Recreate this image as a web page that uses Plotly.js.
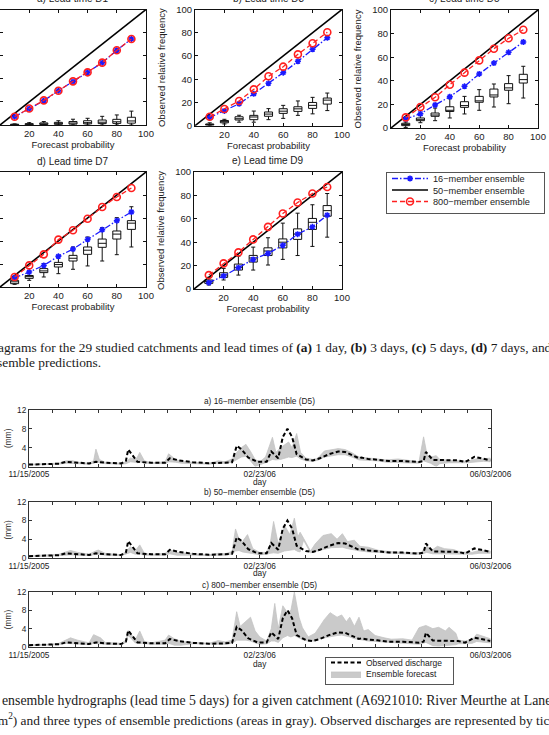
<!DOCTYPE html>
<html>
<head>
<meta charset="utf-8">
<script src="https://cdn.plot.ly/plotly-3.0.1.min.js"></script>
<style>
  html, body { margin: 0; padding: 0; background: #fff; }
  #chart { width: 549px; height: 735px; }
</style>
</head>
<body>
<div id="chart"></div>
<script>
// ---------- Reliability diagrams ----------
const probs = [10, 20, 30, 40, 50, 60, 70, 80, 90];          // forecast probability classes (%)
const probTicks = [20, 40, 60, 80, 100];
const freqTicks = [0, 20, 40, 60, 80, 100];
const perfectLine = [0, 100];                                 // 1:1 reliability line
const leadTitles = ['a) Lead time D1', 'b) Lead time D3', 'c) Lead time D5', 'd) Lead time D7', 'e) Lead time D9'];
const seriesNames = ['16\u2212member ensemble', '50\u2212member ensemble', '800\u2212member ensemble'];

// observed relative frequency (%) - 16-member ensemble
const rel16D1 = [7.2, 14.1, 21.0, 29.7, 37.5, 45.6, 54.0, 64.7, 74.5];
const rel16D3 = [7.0, 12.7, 18.9, 27.5, 36.5, 45.6, 55.4, 65.7, 75.7];
const rel16D5 = [7.6, 12.1, 19.5, 26.5, 35.3, 45.8, 55.0, 64.1, 72.9];
const rel16D7 = [8.1, 13.0, 18.8, 26.7, 33.0, 41.4, 49.8, 57.7, 65.2];
const rel16D9 = [5.4, 11.1, 18.2, 25.3, 30.4, 37.3, 46.9, 53.1, 63.1];

// observed relative frequency (%) - 800-member ensemble
const rel800D1 = [7.2, 14.3, 21.3, 29.7, 37.8, 45.6, 54.0, 64.7, 74.5];
const rel800D3 = [7.7, 14.4, 21.3, 31.3, 42.5, 50.8, 61.4, 70.9, 80.4];
const rel800D5 = [9.0, 17.8, 26.0, 36.7, 46.9, 57.3, 67.2, 76.0, 83.3];
const rel800D7 = [8.7, 18.8, 28.4, 41.2, 49.3, 59.4, 69.6, 78.3, 86.1];
const rel800D9 = [11.9, 21.9, 31.3, 42.4, 53.1, 64.5, 73.9, 81.6, 87.2];

// 50-member ensemble: spread over the 29 catchments (whiskers, quartiles, median)
const box50D1 = {
  low:  [0, 0, 0, 0, 0, 0, 0, 0, 0],
  q1:   [0, 0.2, 0.4, 0.6, 0.8, 1.0, 1.2, 1.4, 1.6],
  med:  [0.3, 0.6, 1.0, 1.3, 1.7, 2.0, 2.4, 2.8, 3.5],
  q3:   [0.7, 1.2, 1.8, 2.3, 3.0, 3.7, 4.3, 4.9, 6.7],
  high: [1.0, 2.0, 3.0, 3.7, 5.0, 5.8, 7.5, 8.7, 12.0]
};
const box50D3 = {
  low:  [0, 1.5, 3.0, 3.0, 5.2, 6.3, 8.9, 10.2, 13.0],
  q1:   [0.5, 2.5, 4.9, 5.2, 8.1, 10.6, 12.3, 14.9, 18.6],
  med:  [1.0, 3.5, 6.0, 7.5, 10.0, 12.5, 14.5, 17.5, 22.0],
  q3:   [1.5, 4.5, 7.7, 8.9, 11.8, 14.6, 16.3, 20.0, 23.8],
  high: [2.5, 5.5, 9.0, 12.6, 14.7, 17.5, 21.3, 24.4, 28.1]
};
const box50D5 = {
  low:  [0.5, 4.5, 6.2, 8.5, 11.9, 15.0, 17.8, 20.6, 25.4],
  q1:   [2.0, 6.2, 9.9, 14.0, 17.5, 21.8, 26.3, 32.0, 38.1],
  med:  [3.0, 7.0, 11.0, 15.0, 19.0, 23.0, 28.0, 34.0, 41.0],
  q3:   [4.0, 8.5, 12.7, 18.0, 22.3, 26.8, 33.0, 37.6, 45.5],
  high: [5.0, 10.5, 16.9, 24.8, 26.8, 32.5, 37.3, 44.4, 52.3]
};
const box50D7 = {
  low:  [2.3, 5.8, 8.7, 11.6, 15.4, 18.3, 22.6, 28.1, 34.8],
  q1:   [2.9, 7.5, 12.5, 17.4, 22.6, 28.4, 34.5, 41.7, 50.1],
  med:  [4.5, 9.0, 14.0, 19.5, 25.0, 32.0, 38.0, 46.0, 55.5],
  q3:   [5.8, 10.0, 16.0, 21.4, 27.5, 34.8, 41.7, 48.7, 57.7],
  high: [7.2, 13.0, 20.3, 27.5, 34.8, 43.5, 51.6, 60.3, 69.8]
};
const box50D9 = {
  low:  [3.4, 7.7, 11.9, 16.2, 20.5, 25.3, 28.6, 36.4, 44.3],
  q1:   [4.8, 9.9, 16.2, 23.0, 28.6, 35.1, 42.4, 50.9, 62.2],
  med:  [6.5, 12.0, 18.5, 26.5, 32.5, 40.0, 47.0, 57.0, 67.0],
  q3:   [7.7, 13.9, 21.3, 28.7, 35.2, 42.8, 51.4, 60.3, 71.3],
  high: [10.0, 17.6, 28.1, 35.8, 43.8, 56.3, 64.8, 72.0, 81.6]
};

// ---------- Ensemble hydrographs (lead time 5 days) ----------
const dateLabels = ['11/15/2005', '02/23/06', '06/03/2006'];
const dateLabelDays = [0, 100, 200];
const hydroTitles = ['a) 16\u2212member ensemble (D5)', 'b) 50\u2212member ensemble (D5)', 'c) 800\u2212member ensemble (D5)'];
const dischargeTicks = [0, 4, 8, 12];

// observed discharge (mm), days since 11/15/2005
const obsDay = [0, 7, 13, 16, 20, 26, 29, 33, 40, 42, 43, 45, 47, 53, 59, 61, 65, 71, 78, 85, 88, 90, 92, 95, 99,
  103, 105, 108, 110, 112, 114, 116, 120, 123, 126, 130, 134, 137, 140, 143, 144, 147, 151, 156, 162, 169,
  171, 172, 175, 180, 186, 189, 193, 196, 200];
const obsQ = [0.4, 0.45, 0.6, 1.0, 0.8, 0.65, 1.0, 0.8, 0.65, 1.2, 3.6, 2.3, 1.0, 0.8, 0.8, 1.75, 1.3, 0.9, 0.7, 0.8, 0.9, 4.4, 3.7, 1.9, 1.0,
  1.0, 3.2, 1.75, 6.3, 8.0, 6.3, 2.6, 1.5, 1.3, 1.75, 2.6, 3.2, 3.1, 2.5, 1.75, 1.9, 1.6, 1.45, 1.15, 1.15, 0.95,
  1.15, 3.1, 1.4, 1.3, 1.3, 0.95, 2.05, 1.75, 1.3];

// 16-member ensemble envelope (mm)
const band16Day = [0, 7, 13, 16, 19, 21, 26, 28, 29, 30.5, 33, 40, 42, 44, 46, 47, 48, 50, 53, 59, 60.5, 63.5, 66, 71, 78, 82, 85, 88,
  90, 92, 94, 96, 98, 100, 102.5, 105.5, 107, 109, 111, 112.5, 114, 116, 117.7, 120, 123, 125, 128, 131, 134, 137, 140,
  143, 147, 151, 155, 160, 165, 169, 171, 172.5, 174, 176.5, 178, 182, 186, 190, 194.5, 197, 200];
const band16Low = [0.3, 0.35, 0.5, 0.7, 0.7, 0.6, 0.5, 0.7, 1.0, 0.9, 0.6, 0.5, 0.6, 1.0, 0.9, 0.8, 1.0, 0.7, 0.6, 0.6, 1.0, 0.9, 0.7, 0.6, 0.5, 0.7, 0.7, 0.9,
  1.5, 2.0, 2.2, 1.2, 0.0, 0.4, 0.8, 1.5, 1.4, 1.5, 1.8, 2.0, 1.9, 2.2, 1.6, 1.2, 1.1, 1.3, 2.0, 2.3, 2.5, 2.5, 2.0,
  1.4, 1.3, 1.2, 0.9, 0.9, 0.8, 0.7, 1.2, 1.0, 0.7, 0.0, 0.6, 0.8, 0.8, 0.8, 1.0, 1.1, 1.0];
const band16High = [0.5, 0.55, 0.7, 1.2, 1.2, 0.9, 0.7, 1.2, 3.7, 1.5, 0.9, 0.7, 1.0, 1.8, 1.5, 2.0, 3.0, 1.2, 0.8, 1.0, 2.7, 1.5, 1.1, 0.9, 0.7, 1.2, 1.0, 1.6,
  3.0, 4.0, 4.7, 3.2, 1.5, 1.0, 2.0, 6.2, 3.0, 4.0, 4.8, 5.2, 4.0, 7.0, 3.0, 1.8, 1.5, 1.7, 3.3, 3.6, 3.8, 3.6, 2.9,
  2.0, 1.8, 1.7, 1.4, 1.6, 1.2, 1.0, 6.3, 2.5, 2.0, 2.3, 1.5, 1.3, 1.2, 1.1, 1.7, 1.6, 1.8];

// 50-member ensemble envelope (mm)
const band50Day = [0, 7, 13, 16, 18, 21, 26, 28, 30, 33, 40, 42, 44, 46, 48, 50, 53, 59, 61, 64, 71, 78, 82, 85, 88,
  89.5, 91, 92.5, 94.7, 97, 100, 103, 104.5, 106, 108, 110.7, 113, 115, 116.5, 117.5, 119, 121, 122, 124, 127.4, 131,
  133.5, 135.8, 138, 141, 143.4, 147, 151.7, 156, 161, 166, 170, 172.3, 175, 177, 180, 184, 187, 192, 195, 200];
const band50Low = [0.3, 0.35, 0.5, 0.6, 0.7, 0.6, 0.5, 0.7, 0.8, 0.6, 0.5, 0.8, 1.2, 0.8, 0.9, 0.6, 0.6, 0.6, 0.9, 0.6, 0.6, 0.5, 0.6, 0.6, 0.8,
  1.5, 1.6, 1.3, 1.2, 0.9, 0.7, 0.8, 1.0, 1.1, 1.0, 1.5, 1.6, 1.8, 1.4, 1.3, 3.8, 2.0, 1.1, 1.3, 1.8, 2.2,
  2.2, 2.3, 2.0, 1.7, 1.5, 1.3, 1.1, 1.0, 0.9, 0.8, 0.8, 1.2, 0.9, 0.8, 0.9, 0.8, 0.8, 0.8, 1.0, 1.0];
const band50High = [0.5, 0.6, 0.8, 1.3, 1.6, 1.2, 0.8, 1.3, 1.7, 1.0, 0.7, 1.4, 2.4, 1.5, 2.8, 1.0, 0.8, 1.0, 1.8, 1.2, 0.9, 0.7, 1.0, 0.9, 1.4,
  6.2, 4.0, 3.5, 5.0, 2.0, 1.2, 1.2, 3.0, 7.8, 3.0, 7.0, 5.0, 8.5, 4.5, 5.5, 4.2, 2.3, 1.5, 3.0, 4.8, 5.2,
  4.0, 5.2, 3.5, 3.8, 2.5, 2.3, 1.6, 1.4, 1.2, 1.1, 1.2, 2.5, 1.8, 2.5, 2.0, 1.8, 1.3, 1.2, 1.6, 1.5];

// 800-member ensemble envelope (mm)
const band800Day = [0, 7, 13, 16, 18, 21, 26, 28, 31, 33, 40, 42, 43, 45, 46, 48, 50, 53, 59, 60.5, 63, 66, 71, 78, 82, 85, 88,
  90, 91.5, 94, 96, 98, 100, 103, 105, 106.5, 108, 110, 112, 113.5, 115, 117, 118.5, 121, 124, 126, 128, 130.5,
  133.5, 135.5, 137.5, 139, 141, 143, 145, 147, 150, 154, 157, 162, 166, 169, 172, 175, 177.5, 180.5, 182, 185, 186,
  189, 192, 194, 198, 200];
const band800Low = [0.3, 0.35, 0.5, 0.8, 0.8, 0.6, 0.5, 0.8, 0.7, 0.6, 0.5, 1.0, 2.5, 1.5, 0.9, 0.9, 0.7, 0.6, 0.6, 0.8, 0.4, 0.4, 0.7, 0.6, 0.6, 0.6, 0.8,
  1.5, 1.6, 1.5, 1.3, 0.9, 0.6, 0.7, 1.3, 1.3, 1.0, 2.0, 2.5, 2.2, 2.5, 2.0, 1.6, 1.3, 1.3, 1.8, 2.0, 2.3,
  2.5, 2.6, 2.4, 2.2, 1.8, 1.6, 1.5, 1.3, 1.2, 1.0, 0.9, 0.8, 0.7, 0.6, 1.0, 0.3, 0.2, 0.3, 0.4, 0.5, 0.7,
  0.7, 0.8, 1.2, 1.0, 0.9];
const band800High = [0.5, 0.55, 0.8, 1.6, 2.0, 1.5, 0.9, 2.7, 2.0, 1.0, 0.8, 1.5, 3.6, 2.3, 1.5, 3.5, 1.2, 0.9, 1.5, 2.6, 1.8, 1.2, 1.0, 0.8, 1.4, 1.1, 1.5,
  7.7, 4.5, 5.5, 6.5, 3.5, 2.2, 1.3, 4.0, 9.5, 4.0, 9.0, 7.5, 8.0, 12.0, 6.5, 4.2, 2.2, 3.0, 4.5, 6.0, 7.5,
  6.5, 7.0, 5.5, 6.5, 4.5, 6.5, 3.5, 3.8, 2.5, 2.0, 1.7, 1.8, 1.5, 4.2, 4.7, 4.0, 4.3, 3.5, 4.3, 3.0, 1.5,
  1.3, 1.5, 2.8, 2.2, 1.8];

// ---------- page geometry (pixels) ----------
const W = 549, H = 735;
const xDom = (a, b) => [a / W, b / W];
const yDom = (top, bottom) => [1 - bottom / H, 1 - top / H];
const FONT = 'Liberation Sans, Arial, Helvetica, sans-serif';
const SERIF = 'Liberation Serif, Times New Roman, Times, serif';

// panels a) and d) start at the left page edge, so their y-axis labels fall off the page
const relPanels = [
  { r16: rel16D1, r800: rel800D1, box: box50D1, x: [0, 146],   y: [9.5, 125],   title: leadTitles[0], ty: -1,  yLabels: false },
  { r16: rel16D3, r800: rel800D3, box: box50D3, x: [195, 342], y: [9.5, 125.7], title: leadTitles[1], ty: -1,  yLabels: true },
  { r16: rel16D5, r800: rel800D5, box: box50D5, x: [391, 538], y: [10, 128],    title: leadTitles[2], ty: -1,  yLabels: true },
  { r16: rel16D7, r800: rel800D7, box: box50D7, x: [0, 146],   y: [172, 287],   title: leadTitles[3], ty: 161, yLabels: false },
  { r16: rel16D9, r800: rel800D9, box: box50D9, x: [194, 342], y: [172, 289],   title: leadTitles[4], ty: 160, yLabels: true }
];

const hydroPanels = [
  { day: band16Day,  low: band16Low,  high: band16High,  y: [410, 466.5], title: hydroTitles[0], ty: 400.5, dayY: 481.5 },
  { day: band50Day,  low: band50Low,  high: band50High,  y: [501.8, 558], title: hydroTitles[1], ty: 491.6, dayY: 572.5 },
  { day: band800Day, low: band800Low, high: band800High, y: [592, 647],   title: hydroTitles[2], ty: 584.5, dayY: 663.5 }
];

const data = [];
const layout = {
  width: W, height: H,
  margin: { l: 0, r: 0, t: 0, b: 0 },
  paper_bgcolor: '#fff', plot_bgcolor: '#fff',
  font: { family: FONT, size: 9.5, color: '#222' },
  showlegend: true,
  legend: {
    x: 386 / W, y: 1 - 172 / H, xanchor: 'left', yanchor: 'top',
    bgcolor: '#fff', bordercolor: '#555', borderwidth: 1,
    font: { family: FONT, size: 9.2, color: '#222' },
    tracegroupgap: 0, itemwidth: 36
  },
  legend2: {
    x: 325 / W, y: 1 - 657 / H, xanchor: 'left', yanchor: 'top',
    bgcolor: '#fff', bordercolor: '#555', borderwidth: 1,
    font: { family: FONT, size: 8.5, color: '#222' },
    tracegroupgap: 0, itemwidth: 30
  },
  annotations: []
};

function frameAxis(extra) {
  return Object.assign({
    showline: true, linecolor: '#111', linewidth: 1, mirror: 'ticks',
    ticks: 'inside', ticklen: 3, tickwidth: 1, tickcolor: '#111',
    showgrid: false, zeroline: false, fixedrange: true
  }, extra);
}

relPanels.forEach((p, i) => {
  const s = i === 0 ? '' : String(i + 1);
  const xa = 'x' + s, ya = 'y' + s;
  layout['xaxis' + s] = frameAxis({
    domain: xDom(p.x[0], p.x[1]), anchor: ya, range: [0, 100],
    tickvals: probTicks, tickfont: { size: 9.5 },
    title: { text: 'Forecast probability', font: { size: 9.5 }, standoff: 0 }
  });
  layout['yaxis' + s] = frameAxis({
    domain: yDom(p.y[0], p.y[1]), anchor: xa, range: [0, 100],
    tickvals: freqTicks, tickfont: { size: 9.5 }, showticklabels: p.yLabels,
    title: p.yLabels ? { text: 'Observed relative frequency', font: { size: 9.5 }, standoff: 8 } : { text: '' }
  });

  // 50-member spread over catchments
  data.push({
    type: 'box', xaxis: xa, yaxis: ya, x: probs,
    lowerfence: p.box.low, q1: p.box.q1, median: p.box.med, q3: p.box.q3, upperfence: p.box.high,
    width: 5.5, whiskerwidth: 0.5, fillcolor: '#fff',
    line: { color: '#111', width: 1 }, showlegend: false, hoverinfo: 'skip'
  });
  // 1:1 line
  data.push({
    type: 'scatter', mode: 'lines', xaxis: xa, yaxis: ya,
    x: perfectLine, y: perfectLine, name: seriesNames[1],
    line: { color: '#000', width: 1.6 }, showlegend: i === 0, legend: 'legend', legendrank: 2
  });
  // 16-member
  data.push({
    type: 'scatter', mode: 'lines+markers', xaxis: xa, yaxis: ya,
    x: probs, y: p.r16, name: seriesNames[0],
    line: { color: '#1a1aff', width: 1.3, dash: '6px,2px,1.5px,2px' },
    marker: { symbol: 'asterisk-open', size: 5, color: '#1a1aff', line: { color: '#1a1aff', width: 1.5 } },
    showlegend: i === 0, legend: 'legend', legendrank: 1
  });
  // 800-member
  data.push({
    type: 'scatter', mode: 'lines+markers', xaxis: xa, yaxis: ya,
    x: probs, y: p.r800, name: seriesNames[2],
    line: { color: '#ff2020', width: 1.3, dash: '5px,3px' },
    marker: { symbol: 'circle-open', size: 7, color: '#ff2020', line: { color: '#ff2020', width: 1.6 } },
    showlegend: i === 0, legend: 'legend', legendrank: 3
  });

  layout.annotations.push({
    xref: 'paper', yref: 'paper', x: (p.x[0] + p.x[1]) / 2 / W, y: 1 - p.ty / H,
    xanchor: 'center', yanchor: 'middle', showarrow: false,
    text: p.title, font: { size: 10, color: '#222' }
  });
});

// hydrograph tick positions every 10 days, dates labelled at start, middle and end
const hydroTickDays = [];
for (let d = 0; d <= 200; d += 10) hydroTickDays.push(d);
const hydroTickText = hydroTickDays.map(d => {
  const k = dateLabelDays.indexOf(d);
  return k >= 0 ? dateLabels[k] : '';
});

hydroPanels.forEach((p, j) => {
  const n = 6 + j, s = String(n);
  const xa = 'x' + s, ya = 'y' + s;
  layout['xaxis' + s] = frameAxis({
    domain: xDom(29, 490.5), anchor: ya, range: [0, 200],
    tickvals: hydroTickDays, ticktext: hydroTickText, tickfont: { size: 8.3 },
    linecolor: '#333', tickcolor: '#333'
  });
  layout['yaxis' + s] = frameAxis({
    domain: yDom(p.y[0], p.y[1]), anchor: xa, range: [0, 12],
    tickvals: dischargeTicks, tickfont: { size: 8.3 },
    linecolor: '#333', tickcolor: '#333',
    title: { text: '(mm)', font: { size: 8.3 }, standoff: 4 }
  });

  // ensemble envelope as closed polygon: upper bound forward, lower bound back
  const px = p.day.concat(p.day.slice().reverse());
  const py = p.high.concat(p.low.slice().reverse());
  data.push({
    type: 'scatter', mode: 'lines', xaxis: xa, yaxis: ya,
    x: px, y: py, fill: 'toself', fillcolor: '#cacaca',
    line: { color: '#c4c4c4', width: 0.8 }, name: 'Ensemble forecast',
    showlegend: j === 2, legend: 'legend2', legendrank: 2, hoverinfo: 'skip'
  });
  data.push({
    type: 'scatter', mode: 'lines', xaxis: xa, yaxis: ya,
    x: obsDay, y: obsQ, name: 'Observed discharge',
    line: { color: '#000', width: 2, dash: '4px,2.5px' },
    showlegend: j === 2, legend: 'legend2', legendrank: 1
  });

  layout.annotations.push({
    xref: 'paper', yref: 'paper', x: (29 + 490.5) / 2 / W, y: 1 - p.ty / H,
    xanchor: 'center', yanchor: 'middle', showarrow: false,
    text: p.title, font: { size: 8.3, color: '#222' }
  });
  // x-axis caption "day", set just under the date labels
  layout.annotations.push({
    xref: 'paper', yref: 'paper', x: (29 + 490.5) / 2 / W, y: 1 - p.dayY / H,
    xanchor: 'center', yanchor: 'middle', showarrow: false,
    text: 'day', font: { size: 8.3, color: '#222' }
  });
});

// figure captions
const captions = [
  { text: 'agrams for the 29 studied catchments and lead times of <b>(a)</b> 1 day, <b>(b)</b> 3 days, <b>(c)</b> 5 days, <b>(d)</b> 7 days, and', x: -4, y: 347, size: 13.4 },
  { text: 'semble predictions.', x: -5.5, y: 362, size: 13.4 },
  { text: 'ensemble hydrographs (lead time 5 days) for a given catchment (A6921010: River Meurthe at Laneuveville', x: 0, y: 701, size: 13.8 },
  { text: 'km<sup>2</sup>) and three types of ensemble predictions (areas in gray). Observed discharges are represented by ticks', x: -11, y: 719, size: 13.4 }
];
captions.forEach(c => {
  layout.annotations.push({
    xref: 'paper', yref: 'paper', x: c.x / W, y: 1 - c.y / H,
    xanchor: 'left', yanchor: 'middle', showarrow: false, align: 'left',
    text: c.text, font: { family: SERIF, size: c.size, color: '#1a1a1a' }
  });
});

// tighter legend rows than the library default
function compactLegend(cls, firstRow, rowStep, boxWidth, boxHeight) {
  const g = document.querySelector('#chart g.' + cls);
  if (!g) return;
  g.querySelectorAll('g.traces').forEach((t, k) => {
    const m = /translate\(([-\d.]+)[ ,]+([-\d.]+)\)/.exec(t.getAttribute('transform') || '');
    const tx = m ? m[1] : 0;
    t.setAttribute('transform', 'translate(' + tx + ',' + (firstRow + k * rowStep) + ')');
  });
  const bg = g.querySelector('rect.bg');
  if (bg) {
    bg.setAttribute('width', boxWidth);
    bg.setAttribute('height', boxHeight);
  }
}

Plotly.newPlot('chart', data, layout, { staticPlot: true, displayModeBar: false }).then(() => {
  compactLegend('legend', 6.5, 11.5, 158, 41);
  compactLegend('legend2', 5.5, 11.5, 128, 27);
});
</script>
</body>
</html>
